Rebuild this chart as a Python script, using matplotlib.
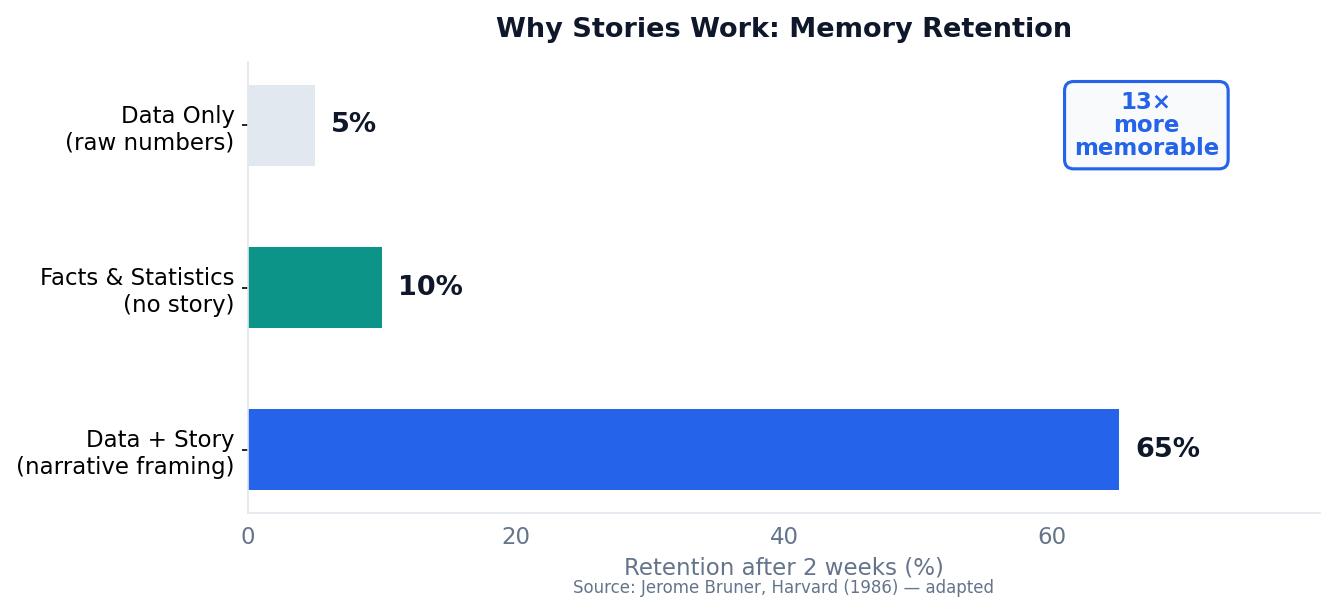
import matplotlib
matplotlib.use("Agg")
import matplotlib.pyplot as plt

categories = ["Data Only\n(raw numbers)", "Facts & Statistics\n(no story)", "Data + Story\n(narrative framing)"]
values = [5, 10, 65]
colors = ["#e2e8f0", "#0d9488", "#2563eb"]

fig = plt.figure(figsize=(1334/150, 608/150), dpi=150)
ax = fig.add_axes([0.186, 0.156, 0.8035, 0.742])
y = range(len(categories))
ax.barh(list(y), values, height=0.5, color=colors)
ax.set_yticks(list(y))
ax.set_yticklabels(categories, fontsize=11)
ax.invert_yaxis()
ax.set_xlim(0, 80)
ax.set_ylim(2.39, -0.39)
ax.set_xticks([0, 20, 40, 60])
ax.tick_params(axis='x', colors="#64748b", labelsize=11, length=0, pad=6)
ax.tick_params(axis='y', length=3, labelsize=11)
for v, yi in zip(values, y):
    ax.text(v + 1.2, yi, f"{v}%", va="center", ha="left", fontsize=13, fontweight="bold", color="#0f172a")
for s in ["top", "right"]:
    ax.spines[s].set_visible(False)
for s in ["left", "bottom"]:
    ax.spines[s].set_color("#e2e8f0")
ax.set_xlabel("Retention after 2 weeks (%)", fontsize=11, color="#64748b", labelpad=4)
ax.set_title("Why Stories Work: Memory Retention", fontsize=13, fontweight="bold", color="#0f172a", pad=12)
ax.text(0.838, 0.86, "13×\nmore\nmemorable", transform=ax.transAxes, ha="center", va="center",
        fontsize=11, fontweight="bold", color="#2563eb", linespacing=1.0,
        bbox=dict(boxstyle="round,pad=0.4", fc="#f8fafc", ec="#2563eb", lw=1.5))
fig.text(0.587, 0.025, "Source: Jerome Bruner, Harvard (1986) — adapted", ha="center", fontsize=8, color="#64748b")
fig.savefig("out.png", dpi=150)
